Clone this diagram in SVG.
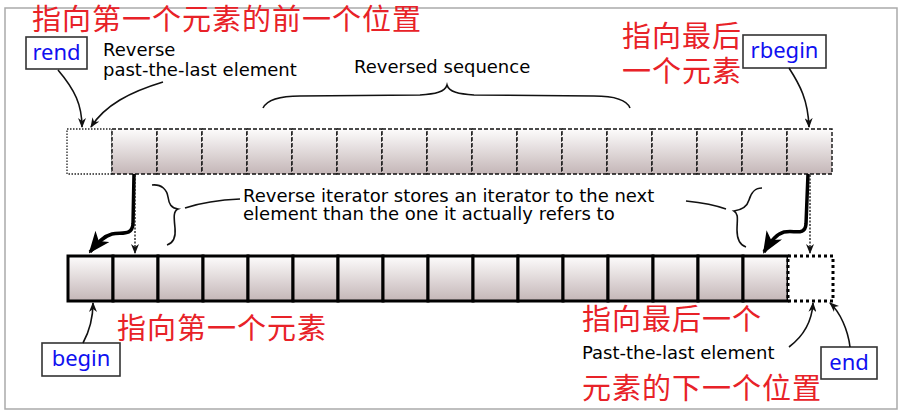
<svg xmlns="http://www.w3.org/2000/svg" width="914" height="412" viewBox="0 0 914 412">
<defs>
<linearGradient id="cellGrad" x1="0" y1="0" x2="0" y2="1">
<stop offset="0" stop-color="#fdfcfc"/>
<stop offset="1" stop-color="#c4b6b7"/>
</linearGradient>
<marker id="arr" viewBox="0 0 10 8" refX="9" refY="4" markerWidth="10" markerHeight="8" markerUnits="userSpaceOnUse" orient="auto">
<path d="M0,0 L10,4 L0,8 L3,4 z" fill="#111"/>
</marker>
<marker id="arrBig" viewBox="0 0 22 18" refX="20" refY="9" markerWidth="22" markerHeight="18" markerUnits="userSpaceOnUse" orient="auto">
<path d="M0,0 L22,9 L0,18 L6,9 z" fill="#000"/>
</marker>
</defs>
<style>
.frame{fill:#fff;stroke:#aaa;stroke-width:1.5}
.cellTop{fill:url(#cellGrad);stroke:#111;stroke-width:1.4;stroke-dasharray:4 2}
.cellTopEmpty{fill:#fff;stroke:#222;stroke-width:1.3;stroke-dasharray:1.5 1.5}
.cellBot{fill:url(#cellGrad);stroke:#000;stroke-width:3}
.cellBotEmpty{fill:#fff;stroke:#000;stroke-width:3;stroke-dasharray:3 3}
.box{fill:#fff;stroke:#333;stroke-width:1.6}
.blue{font-family:"Noto Sans","DejaVu Sans",sans-serif;font-size:22px;fill:#1010f0}
.red{font-family:"Noto Sans CJK SC",sans-serif;font-size:29px;fill:#e82228;letter-spacing:1px}
.blk{font-family:"DejaVu Sans","Noto Sans",sans-serif;font-size:18px;fill:#000}
.line{fill:none;stroke:#111;stroke-width:1.6}
.thick{fill:none;stroke:#000;stroke-width:3.5}
.dots{fill:none;stroke:#111;stroke-width:1.3;stroke-dasharray:2 1.5}
</style>
<rect class="frame" x="5" y="8" width="892" height="401"/>

<g id="top-row">
<rect class="cellTopEmpty" x="67" y="129" width="45" height="45"/>
<rect class="cellTop" x="112" y="129" width="45" height="45"/>
<rect class="cellTop" x="157" y="129" width="45" height="45"/>
<rect class="cellTop" x="202" y="129" width="45" height="45"/>
<rect class="cellTop" x="247" y="129" width="45" height="45"/>
<rect class="cellTop" x="292" y="129" width="45" height="45"/>
<rect class="cellTop" x="337" y="129" width="45" height="45"/>
<rect class="cellTop" x="382" y="129" width="45" height="45"/>
<rect class="cellTop" x="427" y="129" width="45" height="45"/>
<rect class="cellTop" x="472" y="129" width="45" height="45"/>
<rect class="cellTop" x="517" y="129" width="45" height="45"/>
<rect class="cellTop" x="562" y="129" width="45" height="45"/>
<rect class="cellTop" x="607" y="129" width="45" height="45"/>
<rect class="cellTop" x="652" y="129" width="45" height="45"/>
<rect class="cellTop" x="697" y="129" width="45" height="45"/>
<rect class="cellTop" x="742" y="129" width="45" height="45"/>
<rect class="cellTop" x="787" y="129" width="45" height="45"/>
</g>

<g id="bottom-row">
<rect class="cellBot" x="68" y="256" width="45" height="45"/>
<rect class="cellBot" x="113" y="256" width="45" height="45"/>
<rect class="cellBot" x="158" y="256" width="45" height="45"/>
<rect class="cellBot" x="203" y="256" width="45" height="45"/>
<rect class="cellBot" x="248" y="256" width="45" height="45"/>
<rect class="cellBot" x="293" y="256" width="45" height="45"/>
<rect class="cellBot" x="338" y="256" width="45" height="45"/>
<rect class="cellBot" x="383" y="256" width="45" height="45"/>
<rect class="cellBot" x="428" y="256" width="45" height="45"/>
<rect class="cellBot" x="473" y="256" width="45" height="45"/>
<rect class="cellBot" x="518" y="256" width="45" height="45"/>
<rect class="cellBot" x="563" y="256" width="45" height="45"/>
<rect class="cellBot" x="608" y="256" width="45" height="45"/>
<rect class="cellBot" x="653" y="256" width="45" height="45"/>
<rect class="cellBot" x="698" y="256" width="45" height="45"/>
<rect class="cellBot" x="743" y="256" width="45" height="45"/>
<rect class="cellBotEmpty" x="788" y="256" width="45" height="45"/>
</g>

<g id="rend">
<rect class="box" x="26" y="37" width="61" height="32"/>
<text class="blue" x="56.5" y="60" text-anchor="middle">rend</text>
</g>
<g id="rbegin">
<rect class="box" x="743" y="35" width="83" height="33"/>
<text class="blue" x="784.5" y="58" text-anchor="middle">rbegin</text>
</g>
<g id="begin">
<rect class="box" x="42" y="343" width="78" height="33"/>
<text class="blue" x="81" y="366" text-anchor="middle">begin</text>
</g>
<g id="end">
<rect class="box" x="821" y="347" width="56" height="32"/>
<text class="blue" x="849" y="370" text-anchor="middle">end</text>
</g>

<g id="red-labels">
<text class="red" x="32" y="30">指向第一个元素的前一个位置</text>
<text class="red" x="622" y="47">指向最后</text>
<text class="red" x="622" y="82">一个元素</text>
<text class="red" x="117" y="339">指向第一个元素</text>
<text class="red" x="582" y="330">指向最后一个</text>
<text class="red" x="582" y="399">元素的下一个位置</text>
</g>

<g id="notes">
<text class="blk" x="103" y="56">Reverse</text>
<text class="blk" x="103" y="76">past-the-last element</text>
<text class="blk" x="354" y="73">Reversed sequence</text>
<text class="blk" x="243" y="202">Reverse iterator stores an iterator to the next</text>
<text class="blk" x="243" y="220">element than the one it actually refers to</text>
<text class="blk" x="582" y="359">Past-the-last element</text>
</g>

<g id="connectors">
<path class="line" d="M58,70 C75,90 82,105 82,127" marker-end="url(#arr)"/>
<path class="line" d="M163,82 C130,92 105,105 91,127" marker-end="url(#arr)"/>
<path class="line" d="M789,68 C800,85 808,100 809,127" marker-end="url(#arr)"/>
<path class="line" d="M83,343 C90,330 93,318 93,303" marker-end="url(#arr)"/>
<path class="line" d="M789,347 C805,335 812,320 813,303" marker-end="url(#arr)"/>
<path class="line" d="M850,347 C848,330 840,312 830,303" marker-end="url(#arr)"/>
<path class="thick" d="M134,174 L133,224 C132,236 122,232 112,234 C104,236 98,242 90,252" marker-end="url(#arrBig)"/>
<path class="dots" d="M135,175 L135,253" marker-end="url(#arr)"/>
<path class="thick" d="M808,174 L806,224 C805,236 795,230 784,232 C776,234 770,242 764,252" marker-end="url(#arrBig)"/>
<path class="dots" d="M810,175 L810,253" marker-end="url(#arr)"/>
<path class="line" d="M263,108 C268,98 285,96 300,96 L420,95 C435,94 445,92 447,85 C449,92 459,94 474,95 L594,96 C609,96 626,98 630,108"/>
<path class="line" d="M152,185 C162,184 167,190 168,197 C169,204 171,208 178,209 C173,211 174,218 175,228 C176,238 173,243 167,245"/>
<path class="line" d="M762,188 C754,188 751,193 749,200 C747,207 741,210 734,211 C739,214 737,220 737,230 C737,240 740,245 746,247"/>
<path class="line" d="M240,199 C215,200 200,203 185,208"/>
<path class="line" d="M686,201 C705,203 715,205 726,209"/>
</g>
</svg>
